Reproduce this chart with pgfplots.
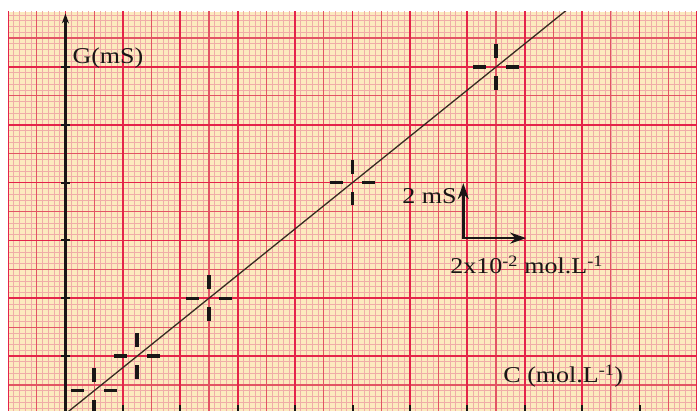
\documentclass[border=0pt]{standalone}
\usepackage{fontspec}
\setmainfont{Liberation Serif}
\newfontfamily\lbl[FakeStretch=1.15]{Liberation Serif}
\usepackage{pgfplots}
\pgfplotsset{compat=1.18}
\usetikzlibrary{arrows.meta}
\definecolor{paper}{RGB}{252,234,190}
\definecolor{fine}{RGB}{240,172,168}
\definecolor{med}{RGB}{226,85,100}
\definecolor{boldred}{RGB}{228,36,74}
\definecolor{ink}{RGB}{25,22,22}
\definecolor{fitline}{RGB}{55,44,34}
\pgfdeclareplotmark{dcross}{%
  \pgfsetlinewidth{3.4bp}%
  \pgfpathmoveto{\pgfqpoint{-23pt}{0pt}}\pgfpathlineto{\pgfqpoint{-10pt}{0pt}}%
  \pgfpathmoveto{\pgfqpoint{10pt}{0pt}}\pgfpathlineto{\pgfqpoint{23pt}{0pt}}%
  \pgfpathmoveto{\pgfqpoint{0pt}{-23pt}}\pgfpathlineto{\pgfqpoint{0pt}{-9pt}}%
  \pgfpathmoveto{\pgfqpoint{0pt}{9pt}}\pgfpathlineto{\pgfqpoint{0pt}{23pt}}%
  \pgfusepathqstroke}
\begin{document}
\begin{tikzpicture}
\fill[white] (-8bp,0) rectangle (689bp,411bp);
\begin{axis}[
  at={(0,0)}, anchor=south west,
  scale only axis, width=689bp, height=399bp,
  xmin=-2, xmax=22, ymin=0.1, ymax=13.9,
  axis background/.style={fill=paper},
  axis line style={draw=none},
  xtick=\empty, ytick=\empty,
]
% millimetre paper
\pgfplotsinvokeforeach{-1.8,-1.6,...,21.9}{\draw[fine, line width=0.7bp] (axis cs:#1,0) -- (axis cs:#1,14);}
\pgfplotsinvokeforeach{0.2,0.4,...,13.9}{\draw[fine, line width=0.7bp] (axis cs:-2,#1) -- (axis cs:22,#1);}
\pgfplotsinvokeforeach{-1,1,...,21}{\draw[med, line width=1.1bp] (axis cs:#1,0) -- (axis cs:#1,14);}
\pgfplotsinvokeforeach{1,3,...,13}{\draw[med, line width=1.1bp] (axis cs:-2,#1) -- (axis cs:22,#1);}
\pgfplotsinvokeforeach{-2,0,...,22}{\draw[boldred, line width=1.8bp] (axis cs:#1,0) -- (axis cs:#1,14);}
\pgfplotsinvokeforeach{2,4,...,12}{\draw[boldred, line width=1.8bp] (axis cs:-2,#1) -- (axis cs:22,#1);}
% data
\addplot[fitline, line width=1.3bp] coordinates {(0,0) (18,14.4)};
\addplot[only marks, mark=dcross, ink]
  coordinates {(1,0.8) (2.5,2) (5,4) (10,8) (15,12)};
% y axis
\draw[ink, line width=2.6bp, -{Stealth[length=10bp,width=7bp]}] (axis cs:0,0) -- (axis cs:0,13.85);
\pgfplotsinvokeforeach{2,4,...,12}{\draw[ink, line width=2bp] ([xshift=-4.5bp]axis cs:0,#1) -- ([xshift=4.5bp]axis cs:0,#1);}
% x ticks at bottom
\pgfplotsinvokeforeach{2,4,...,20}{\draw[ink, line width=2bp] (axis cs:#1,0) -- ([yshift=9bp]axis cs:#1,0);}
% scale arrows
\draw[ink, line width=2.6bp, -{Stealth[length=16bp,width=11bp]}] (axis cs:13.86,6.08) -- (axis cs:13.86,7.98);
\draw[ink, line width=2.6bp, -{Stealth[length=16bp,width=11bp]}] (axis cs:13.80,6.08) -- (axis cs:16.05,6.08);
% labels
\begin{scope}[every node/.style={inner sep=0pt, anchor=base west, text=ink, font=\lbl\fontsize{22.7}{24}\selectfont}]
\node at (axis cs:0.24,12.12) {G(mS)};
\node at (axis cs:11.73,7.29) {2 mS};
\node at (axis cs:13.4,4.84) {2x10\textsuperscript{-2} mol.L\textsuperscript{-1}};
\node at (axis cs:15.25,1.07) {C (mol.L\textsuperscript{-1})};
\end{scope}
\end{axis}
\pgfresetboundingbox
\path[use as bounding box] (-8bp,0) rectangle (689bp,411bp);
\end{tikzpicture}
\end{document}
